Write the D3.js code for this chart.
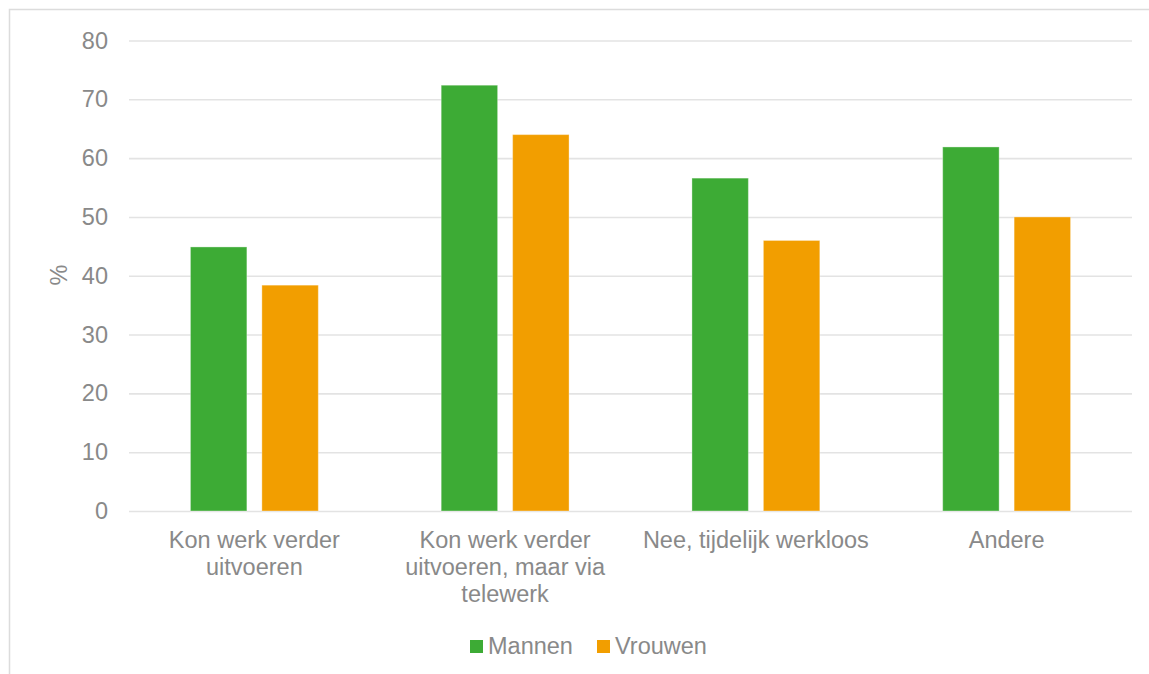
<!DOCTYPE html>
<html>
<head>
<meta charset="utf-8">
<script src="https://cdn.jsdelivr.net/npm/d3@7"></script>
<style>
  html, body { margin: 0; padding: 0; background: #fff; }
  svg { display: block; font-family: "Liberation Sans", Arial, sans-serif; }
</style>
</head>
<body>
<svg id="chart" width="1149" height="674"></svg>
<script>
// Categories and percentages per gender
const categories = [
  "Kon werk verder uitvoeren",
  "Kon werk verder uitvoeren, maar via telewerk",
  "Nee, tijdelijk werkloos",
  "Andere"
];
const seriesNames = ["Mannen", "Vrouwen"];
const mannen = [44.9, 72.4, 56.6, 61.9];
const vrouwen = [38.4, 64.0, 46.0, 50.0];
const yTicks = [0, 10, 20, 30, 40, 50, 60, 70, 80];
const yLabel = "%";

const colors = { Mannen: "#3dab35", Vrouwen: "#f29e00" };
const textColor = "#898989";
const gridColor = "#e3e3e3";
const fontSize = 23.5;

const svg = d3.select("#chart");
const W = 1149, H = 674;
const plot = { left: 129, right: 1132, top: 40.5, bottom: 511 };

// outer frame (left and top edges)
svg.append("path")
  .attr("d", `M9.5,${H} V9.5 H${W}`)
  .attr("fill", "none")
  .attr("stroke", "#dcdcdc")
  .attr("stroke-width", 1.5);

const x0 = d3.scaleBand().domain(categories).range([plot.left, plot.right]).paddingInner(0).paddingOuter(0);
const x1 = d3.scaleBand().domain(seriesNames).range([0, x0.bandwidth()]).paddingInner(0.21).paddingOuter(0.86);
const y = d3.scaleLinear().domain([0, 80]).range([plot.bottom, plot.top]);

// gridlines and y labels
const yAxis = d3.axisLeft(y).tickValues(yTicks).tickSize(plot.left - plot.right).tickPadding(21).tickFormat(d3.format("d"));
const yg = svg.append("g").attr("transform", `translate(${plot.left},0)`).call(yAxis);
yg.select(".domain").remove();
yg.selectAll(".tick line").attr("stroke", gridColor).attr("stroke-width", 1.6)
  .attr("transform", `translate(${plot.right - plot.left},0)`)
  .attr("x2", -(plot.right - plot.left));
yg.selectAll(".tick text")
  .attr("fill", textColor)
  .attr("font-size", fontSize)
  .attr("font-family", "Liberation Sans, Arial, sans-serif");

// bars
const rows = categories.map((c, i) => ({ cat: c, values: [
  { key: "Mannen", value: mannen[i] },
  { key: "Vrouwen", value: vrouwen[i] }
]}));

const groups = svg.append("g").selectAll("g").data(rows).join("g")
  .attr("transform", d => `translate(${x0(d.cat)},0)`);
groups.selectAll("rect").data(d => d.values).join("rect")
  .attr("x", d => x1(d.key))
  .attr("width", x1.bandwidth())
  .attr("y", d => y(d.value))
  .attr("height", d => y(0) - y(d.value))
  .attr("fill", d => colors[d.key])
  .attr("stroke", "rgba(255,255,255,0.35)")
  .attr("stroke-width", 1);

// category labels with word wrapping
const catG = svg.append("g");
const maxW = 240;
categories.forEach(cat => {
  const cx = x0(cat) + x0.bandwidth() / 2;
  const t = catG.append("text")
    .attr("x", cx)
    .attr("y", 548)
    .attr("text-anchor", "middle")
    .attr("fill", textColor)
    .attr("font-size", fontSize);
  const words = cat.split(" ");
  let line = [];
  let tspan = t.append("tspan").attr("x", cx).attr("dy", 0);
  words.forEach(w => {
    line.push(w);
    tspan.text(line.join(" "));
    if (tspan.node().getComputedTextLength() > maxW && line.length > 1) {
      line.pop();
      tspan.text(line.join(" "));
      line = [w];
      tspan = t.append("tspan").attr("x", cx).attr("dy", 27).text(w);
    }
  });
});

// y axis title
svg.append("text")
  .attr("transform", "translate(67,275) rotate(-90)")
  .attr("text-anchor", "middle")
  .attr("fill", textColor)
  .attr("font-size", fontSize)
  .text(yLabel);

// legend
const legend = svg.append("g");
const legendX = [470, 597];
seriesNames.forEach((name, i) => {
  legend.append("rect")
    .attr("x", legendX[i]).attr("y", 640)
    .attr("width", 13).attr("height", 13)
    .attr("fill", colors[name]);
  legend.append("text")
    .attr("x", legendX[i] + 18).attr("y", 654)
    .attr("fill", textColor)
    .attr("font-size", fontSize)
    .text(name);
});
</script>
</body>
</html>
